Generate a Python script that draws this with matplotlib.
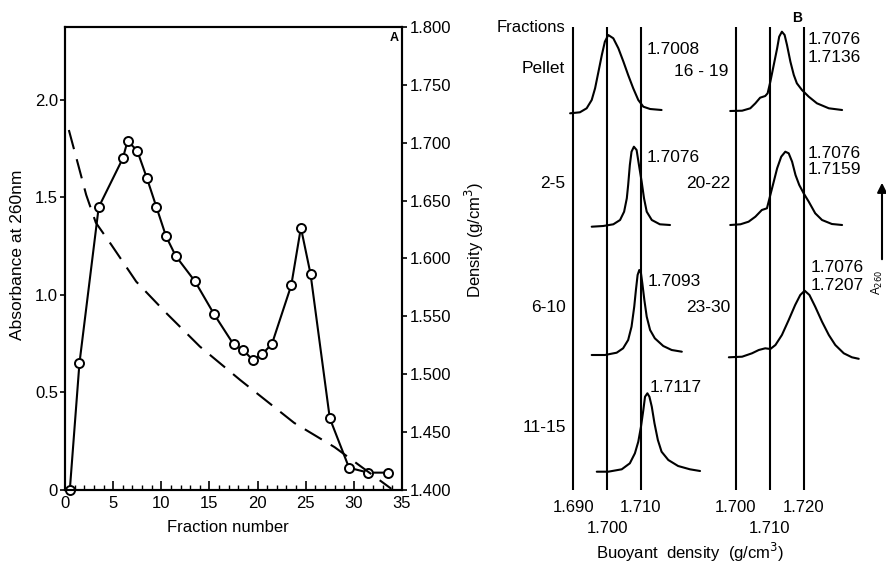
import matplotlib
matplotlib.use('Agg')
import matplotlib.pyplot as plt

plt.rcParams['font.family'] = ['Liberation Sans', 'DejaVu Sans']

# ---------------- Panel A data ----------------
fraction = [0.5, 1.5, 3.5, 6.0, 6.5, 7.5, 8.5, 9.5, 10.5, 11.5, 13.5, 15.5,
            17.5, 18.5, 19.5, 20.5, 21.5, 23.5, 24.5, 25.5, 27.5, 29.5, 31.5, 33.5]
absorbance = [0.0, 0.65, 1.45, 1.70, 1.79, 1.74, 1.60, 1.45, 1.30, 1.20, 1.07, 0.90,
              0.747, 0.718, 0.667, 0.697, 0.75, 1.05, 1.345, 1.108, 0.368, 0.114, 0.089, 0.089]
density_fraction = [0.4, 1.4, 2.2, 3.2, 4.8, 7.4, 10.5, 14.0, 18.2, 23.8, 28.0, 33.9]
density = [1.711, 1.680, 1.655, 1.631, 1.612, 1.580, 1.553, 1.524, 1.495, 1.458, 1.437, 1.401]

x_ticks = [0, 5, 10, 15, 20, 25, 30, 35]
abs_ticks = [0, 0.5, 1.0, 1.5, 2.0]
abs_tick_labels = ['0', '0.5', '1.0', '1.5', '2.0']
dens_ticks = [1.400, 1.450, 1.500, 1.550, 1.600, 1.650, 1.700, 1.750, 1.800]

# ---------------- Panel B data ----------------
left_lines = [1.690, 1.700, 1.710]
right_lines = [1.700, 1.710, 1.720]
left_upper_ticks = [1.690, 1.710]
left_lower_ticks = [1.700]
right_upper_ticks = [1.700, 1.720]
right_lower_ticks = [1.710]

pellet_d = [1.6890, 1.6919, 1.6939, 1.6954, 1.6964, 1.6974, 1.6984, 1.6993, 1.7003, 1.7018,
            1.7033, 1.7048, 1.7062, 1.7077, 1.7092, 1.7107, 1.7127, 1.7161]
pellet_h = [0, 1, 5, 13.3, 25, 41.6, 58.3, 71.6, 78.3, 75, 65, 51.6, 38.3, 25, 13.3, 6.6, 4.3, 3.3]

f2_5_d = [1.6954, 1.6988, 1.7018, 1.7038, 1.7050, 1.7058, 1.7062, 1.7067, 1.7072, 1.7079,
          1.7087, 1.7094, 1.7102, 1.7109, 1.7117, 1.7132, 1.7156, 1.7186]
f2_5_h = [0, 0.7, 2.4, 6.7, 15, 28.4, 41.7, 61.7, 75, 80, 76.7, 61.7, 45, 28.4, 15, 6.7, 2.4, 1.7]

f6_10_d = [1.6954, 1.6993, 1.7028, 1.7047, 1.7062, 1.7072, 1.7080, 1.7085, 1.7090, 1.7095,
           1.7100, 1.7104, 1.7110, 1.7117, 1.7127, 1.7141, 1.7166, 1.7191, 1.7221]
f6_10_h = [0, 0, 2.3, 6.7, 15, 28.3, 48.3, 65, 80, 85, 81.7, 71.7, 55, 38.3, 25, 16.7, 9, 5, 3.3]

f11_15_d = [1.6969, 1.7003, 1.7043, 1.7067, 1.7082, 1.7092, 1.7100, 1.7107, 1.7112, 1.7119,
            1.7125, 1.7132, 1.7140, 1.7150, 1.7161, 1.7181, 1.7210, 1.7245, 1.7275]
f11_15_h = [0, 0, 2.4, 8.4, 18.4, 30, 45, 61.7, 75, 78.4, 75, 65, 48.4, 31.7, 20, 11.7, 5.7, 2.4, 0.7]

f16_19_d = [1.6983, 1.7018, 1.7042, 1.7057, 1.7071, 1.7086, 1.7093, 1.7101, 1.7111, 1.7121, 1.7127,
            1.7135, 1.7143, 1.7150, 1.7160, 1.7170, 1.7179, 1.7194, 1.7214, 1.7238, 1.7273, 1.7312]
f16_19_h = [0, 0.3, 2.7, 7.7, 13.3, 15, 17.7, 29.3, 46, 62.7, 74.3, 79.3, 76, 66, 49.3, 36, 27.7,
            21, 14.3, 7.7, 2.7, 1]

f20_22_d = [1.6983, 1.7013, 1.7037, 1.7057, 1.7076, 1.7091, 1.7101, 1.7111, 1.7121, 1.7133, 1.7145,
            1.7155, 1.7165, 1.7175, 1.7186, 1.7199, 1.7214, 1.7233, 1.7253, 1.7282, 1.7312]
f20_22_h = [0, 0.7, 3.3, 8.3, 15, 16.7, 30, 43.3, 56.7, 68.3, 73.3, 71.7, 63.3, 50, 40, 31.7, 23.3,
            11.7, 5, 1, 0]

f23_30_d = [1.6979, 1.7018, 1.7047, 1.7067, 1.7086, 1.7101, 1.7116, 1.7135, 1.7155, 1.7174,
            1.7189, 1.7202, 1.7216, 1.7233, 1.7253, 1.7273, 1.7292, 1.7317, 1.7341, 1.7361]
f23_30_h = [0, 0.6, 4, 7.3, 9, 8.3, 12.3, 22.3, 37.3, 52.3, 62.3, 66.6, 62.3, 50.6, 35.6, 22.3,
            12.3, 4, 0, -1.5]

fraction_names_left = ['Pellet', '2-5', '6-10', '11-15']
fraction_names_right = ['16 - 19', '20-22', '23-30']
peak_labels_left = ['1.7008', '1.7076', '1.7093', '1.7117']
peak_labels_right = [('1.7076', '1.7136'), ('1.7076', '1.7159'), ('1.7076', '1.7207')]

# ---------------- layout (pixels) ----------------
W, H = 886, 562
def fx(x):
    return x / W
def fy(y):
    return 1 - y / H

fig = plt.figure(figsize=(W / 100, H / 100), dpi=100)

FS = 12
LW = 1.5

# ---- Panel A ----
axA = fig.add_axes([fx(65), fy(490), (402 - 65) / W, (490 - 27) / H])
axA.plot(fraction, absorbance, '-o', color='black', lw=LW, ms=6.5, mfc='white',
         mec='black', mew=1.4, clip_on=False, zorder=3)
axA.set_xlim(0, 35)
axA.set_ylim(0, 2.374)
axA.set_xticks(x_ticks)
axA.set_xticks(range(0, 36), minor=True)
axA.set_yticks(abs_ticks)
axA.set_yticklabels(abs_tick_labels)
axA.tick_params(axis='x', which='major', direction='in', length=6.5, width=1.2,
                labelsize=FS, pad=4, top=False)
axA.tick_params(axis='x', which='minor', direction='in', length=3.5, width=1.0, top=False)
axA.tick_params(axis='y', which='major', direction='out', length=3.6, width=1.2,
                labelsize=FS, pad=1.5)

axD = axA.twinx()
axD.plot(density_fraction, density, color='black', lw=LW, dashes=(9.5, 5))
axD.set_ylim(1.4, 1.8)
axD.set_yticks(dens_ticks)
axD.set_yticklabels(['%.3f' % v for v in dens_ticks])
axD.tick_params(axis='y', which='major', direction='out', length=3.6, width=1.2,
                labelsize=FS, pad=2)
for ax in (axA, axD):
    for s in ax.spines.values():
        s.set_linewidth(LW)

fig.text(fx(18), fy(255), 'Absorbance at 260nm', rotation=90, ha='center', va='center',
         fontsize=12.5)
fig.text(fx(474), fy(240), 'Density (g/cm$^3$)', rotation=90, ha='center', va='center',
         fontsize=FS)
fig.text(fx(228), fy(527), 'Fraction number', ha='center', va='center', fontsize=FS)
fig.text(fx(394), fy(38), 'A', ha='center', va='center', fontsize=9, fontweight='bold')

# ---- Panel B ----
def make_b_axes(left_px, right_px, xlim, lines, upper, lower):
    ax = fig.add_axes([fx(left_px), fy(490), (right_px - left_px) / W, 463 / H])
    ax.set_xlim(*xlim)
    ax.set_ylim(0, 463)
    ax.patch.set_visible(False)
    for s in ax.spines.values():
        s.set_visible(False)
    ax.set_yticks([])
    ax.set_xticks(upper)
    ax.set_xticklabels(['%.3f' % v for v in upper])
    ax.set_xticks(lower, minor=True)
    ax.set_xticklabels(['%.3f' % v for v in lower], minor=True)
    ax.tick_params(axis='x', which='major', length=0, pad=7, labelsize=FS)
    ax.tick_params(axis='x', which='minor', length=0, pad=22, labelsize=FS)
    for v in lines:
        ax.axvline(v, ymin=0, ymax=0.998, color='black', lw=LW)
    return ax

axB1 = make_b_axes(558.3, 705.1, (1.6855, 1.7290), left_lines, left_upper_ticks, left_lower_ticks)
axB2 = make_b_axes(725.8, 863.5, (1.6970, 1.7375), right_lines, right_upper_ticks, right_lower_ticks)

left_traces = [(pellet_d, pellet_h), (f2_5_d, f2_5_h), (f6_10_d, f6_10_h), (f11_15_d, f11_15_h)]
left_offsets = [376.7, 263.3, 135.0, 18.3]
right_traces = [(f16_19_d, f16_19_h), (f20_22_d, f20_22_h), (f23_30_d, f23_30_h)]
right_offsets = [379.0, 265.0, 132.7]

for (d, h), off in zip(left_traces, left_offsets):
    axB1.plot(d, [off + v for v in h], color='black', lw=LW, solid_joinstyle='round',
              solid_capstyle='round')
for (d, h), off in zip(right_traces, right_offsets):
    axB2.plot(d, [off + v for v in h], color='black', lw=LW, solid_joinstyle='round',
              solid_capstyle='round')

# labels in panel B
fig.text(fx(565), fy(28), 'Fractions', ha='right', va='center', fontsize=FS)
for name, (xr, yc) in zip(fraction_names_left, [(565, 68), (565, 183), (566, 307), (566, 427)]):
    fig.text(fx(xr), fy(yc), name, ha='right', va='center', fontsize=12.5)
for name, (xr, yc) in zip(fraction_names_right, [(728, 72), (730, 183), (730, 307)]):
    fig.text(fx(xr), fy(yc), name, ha='right', va='center', fontsize=12.5)
for lab, (xl, yc) in zip(peak_labels_left, [(647, 50), (647, 157), (648, 282), (650, 387)]):
    fig.text(fx(xl), fy(yc), lab, ha='left', va='center', fontsize=12.5)
for (l1, l2), (xl, y1, y2) in zip(peak_labels_right,
                                  [(808, 40, 57), (808, 153, 170), (811, 267, 285)]):
    fig.text(fx(xl), fy(y1), l1, ha='left', va='center', fontsize=12.5)
    fig.text(fx(xl), fy(y2), l2, ha='left', va='center', fontsize=12.5)

fig.text(fx(797), fy(18), 'B', ha='center', va='center', fontsize=10, fontweight='bold')
fig.text(fx(690), fy(552), 'Buoyant  density  (g/cm$^3$)', ha='center', va='center',
         fontsize=FS)

# A260 arrow at far right
fig.add_artist(matplotlib.patches.FancyArrowPatch(
    (fx(882), fy(262)), (fx(882), fy(180)), transform=fig.transFigure,
    arrowstyle='-|>', mutation_scale=14, color='black', lw=LW))
fig.text(fx(877), fy(282), 'A$_{260}$', rotation=90, ha='center', va='center', fontsize=8.5)

fig.savefig('out.png', dpi=100)
